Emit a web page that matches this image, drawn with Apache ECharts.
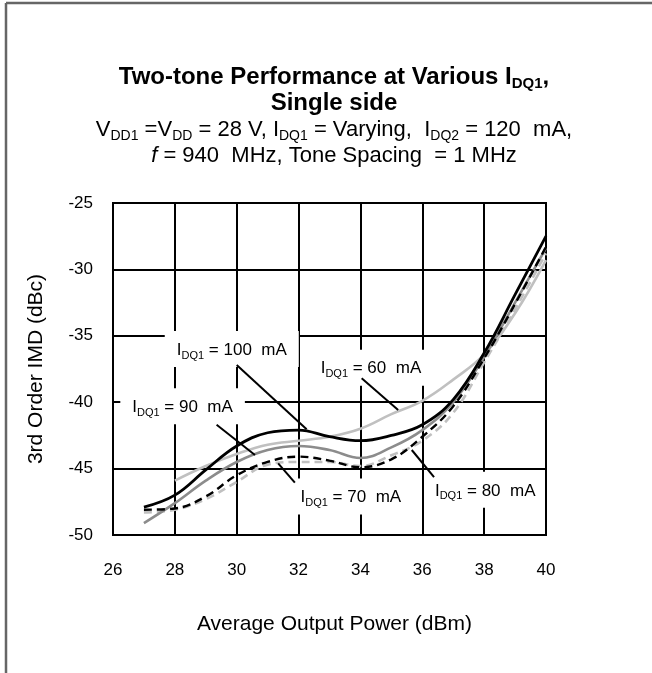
<!DOCTYPE html>
<html>
<head>
<meta charset="utf-8">
<script src="https://cdn.jsdelivr.net/npm/echarts@6/dist/echarts.min.js"></script>
<style>
html,body{margin:0;padding:0;background:#fff;}
#chart{width:652px;height:673px;}
</style>
</head>
<body>
<div id="chart"></div>
<script>
// ---- data ----
const xValues = [27, 28, 29, 30, 31, 32, 33, 34, 35, 36, 37, 38, 39, 40];
const imd60  = [null, -45.9, -44.8, -43.9, -43.2, -42.9, -42.6, -42.0, -40.9, -39.9, -38.3, -36.4, -33.3, -29.3];
const imd70  = [-48.1, -48.0, -47.1, -45.5, -44.5, -44.1, -44.4, -44.9, -44.3, -42.6, -40.3, -36.7, -32.6, -28.3];
const imd80  = [-48.3, -48.1, -47.3, -46.0, -44.7, -44.5, -44.5, -44.8, -44.0, -42.9, -40.8, -37.0, -33.0, -28.8];
const imd90  = [-49.1, -47.6, -45.9, -44.5, -43.6, -43.3, -43.6, -44.2, -43.4, -42.1, -40.0, -36.6, -32.5, -28.4];
const imd100 = [-47.9, -47.0, -45.1, -43.3, -42.3, -42.1, -42.6, -42.9, -42.5, -41.7, -39.8, -36.3, -31.9, -27.5];

const xMin = 26, xMax = 40, xStep = 2;
const yMin = -50, yMax = -25, yStep = 5;

// annotation labels (data coordinates)
const labelCurrents = ['100', '60', '90', '70', '80'];
const labelAnchors = [[29.84, -36.0], [34.34, -37.4], [28.25, -40.3], [33.69, -47.1], [37.97, -46.6]];
const leaderStarts = [[30.0, -37.2], [34.04, -38.2], [29.35, -41.7], [31.88, -46.05], [36.38, -45.65]];
const leaderEnds   = [[32.26, -42.04], [35.22, -40.59], [30.59, -43.97], [31.34, -44.6], [35.66, -43.6]];

const FONT = "'Liberation Sans', Arial, Helvetica, sans-serif";

function pairs(ys) { return xValues.map((x, i) => [x, ys[i]]); }

function lineSeries(name, ys, color, width, type) {
  return {
    name: name, type: 'line', data: pairs(ys), smooth: 0.4, showSymbol: false,
    connectNulls: false,
    lineStyle: { color: color, width: width, type: type },
    itemStyle: { color: color }, z: 3
  };
}

const chart = echarts.init(document.getElementById('chart'));

const labelRich = {
  n: { fontFamily: FONT, fontSize: 17, color: '#000', lineHeight: 22 },
  s: { fontFamily: FONT, fontSize: 11, color: '#000', lineHeight: 11, verticalAlign: 'bottom' }
};

const labelItems = labelAnchors.map((p, i) => (
  i === labelAnchors.length - 1
    ? { value: p, label: { padding: [8, 6, 6, 10] } }
    : { value: p }
));

const option = {
  animation: false,
  backgroundColor: '#fff',
  grid: { left: 113, right: 106, top: 203, bottom: 138, show: true, borderColor: '#000', borderWidth: 2 },
  xAxis: {
    type: 'value', min: xMin, max: xMax, interval: xStep,
    name: 'Average Output Power (dBm)', nameLocation: 'middle', nameGap: 79,
    nameTextStyle: { fontFamily: FONT, fontSize: 21, color: '#000', padding: [0, 0, 0, 10] },
    axisLine: { show: true, lineStyle: { color: '#000', width: 2 } },
    axisTick: { show: false },
    axisLabel: { fontFamily: FONT, fontSize: 17, color: '#000', margin: 27 },
    splitLine: { show: true, lineStyle: { color: '#000', width: 2 } }
  },
  yAxis: {
    type: 'value', min: yMin, max: yMax, interval: yStep,
    name: '3rd Order IMD (dBc)', nameLocation: 'middle', nameGap: 66,
    nameTextStyle: { fontFamily: FONT, fontSize: 21, color: '#000' },
    axisLine: { show: true, lineStyle: { color: '#000', width: 2 } },
    axisTick: { show: false },
    axisLabel: { fontFamily: FONT, fontSize: 17, color: '#000', margin: 20 },
    splitLine: { show: true, lineStyle: { color: '#000', width: 2 } }
  },
  series: [
    lineSeries('60 mA', imd60, '#c0c0c0', 2.6, 'solid'),
    lineSeries('80 mA', imd80, '#c0c0c0', 2.6, [8, 5]),
    lineSeries('90 mA', imd90, '#8c8c8c', 2.6, 'solid'),
    lineSeries('70 mA', imd70, '#000000', 2.4, [8, 5]),
    lineSeries('100 mA', imd100, '#000000', 2.8, 'solid'),
    {
      type: 'scatter', data: labelItems, symbolSize: 1,
      itemStyle: { color: 'rgba(255,255,255,0)', opacity: 1 },
      emphasis: { disabled: true },
      silent: true, z: 4,
      label: {
        show: true, position: 'inside', backgroundColor: '#ffffff', opacity: 1,
        padding: [8, 12, 6, 12], color: '#000',
        formatter: function (p) { return '{n|I}{s|DQ1}{n| = ' + labelCurrents[p.dataIndex] + '  mA}'; },
        rich: labelRich
      }
    },
    {
      type: 'lines', coordinateSystem: 'cartesian2d', silent: true, z: 5,
      lineStyle: { color: '#000', width: 2, opacity: 1 },
      data: leaderStarts.map((s, i) => ({ coords: [s, leaderEnds[i]] }))
    }
  ],
  graphic: [
    { type: 'line', shape: { x1: 6, y1: 3, x2: 652, y2: 3 }, style: { stroke: '#666', lineWidth: 2.5 } },
    { type: 'line', shape: { x1: 6, y1: 3, x2: 6, y2: 673 }, style: { stroke: '#666', lineWidth: 2.5 } },
    {
      type: 'text', x: 334, y: 63,
      style: {
        align: 'center', verticalAlign: 'top',
        text: '{t|Two-tone Performance at Various I}{ts|DQ1}{t|,}',
        rich: {
          t: { fontFamily: FONT, fontSize: 24, fontWeight: 'bold', color: '#000', lineHeight: 28 },
          ts: { fontFamily: FONT, fontSize: 15, fontWeight: 'bold', color: '#000', lineHeight: 15, verticalAlign: 'bottom' }
        }
      }
    },
    {
      type: 'text', x: 334, y: 89,
      style: {
        align: 'center', verticalAlign: 'top',
        text: '{t|Single side}',
        rich: { t: { fontFamily: FONT, fontSize: 24, fontWeight: 'bold', color: '#000', lineHeight: 28 } }
      }
    },
    {
      type: 'text', x: 334, y: 117,
      style: {
        align: 'center', verticalAlign: 'top',
        text: '{n|V}{s|DD1}{n| =V}{s|DD}{n| = 28 V, I}{s|DQ1}{n| = Varying,  I}{s|DQ2}{n| = 120  mA,}',
        rich: {
          n: { fontFamily: FONT, fontSize: 22, color: '#000', lineHeight: 26 },
          s: { fontFamily: FONT, fontSize: 14, color: '#000', lineHeight: 14, verticalAlign: 'bottom' }
        }
      }
    },
    {
      type: 'text', x: 334, y: 143,
      style: {
        align: 'center', verticalAlign: 'top',
        text: '{i|f}{n| = 940  MHz, Tone Spacing  = 1 MHz}',
        rich: {
          n: { fontFamily: FONT, fontSize: 22, color: '#000', lineHeight: 26 },
          i: { fontFamily: FONT, fontSize: 22, fontStyle: 'italic', color: '#000', lineHeight: 26 }
        }
      }
    }
  ]
};

chart.setOption(option);
</script>
</body>
</html>
